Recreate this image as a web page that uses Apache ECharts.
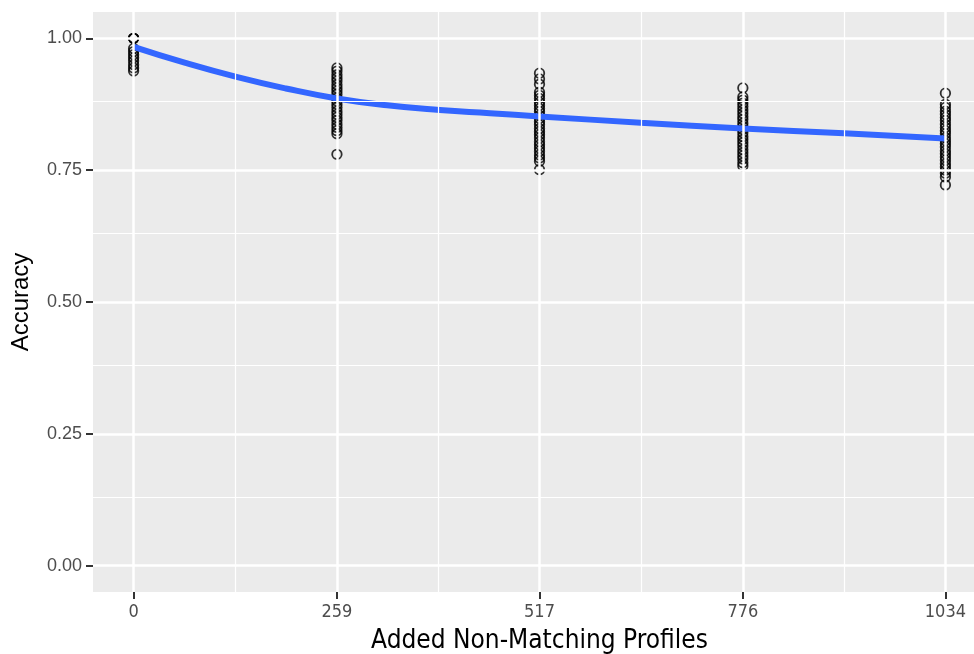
<!DOCTYPE html>
<html>
<head>
<meta charset="utf-8">
<style>
  html, body { margin: 0; padding: 0; background: #fff; }
  #chart { width: 974px; height: 654px; }
</style>
<script src="https://cdn.jsdelivr.net/npm/echarts@6/dist/echarts.min.js"></script>
</head>
<body>
<div id="chart"></div>
<script>
// x positions (added non-matching profiles) and their tick labels
const xValues = [0, 259, 517, 776, 1034];
const xMinor = [129.5, 388, 646.5, 905];
const yTicks = [0, 0.25, 0.5, 0.75, 1];
const yMinor = [0.125, 0.375, 0.625, 0.875];

// accuracy of each run
const acc0 = [1.000, 1.000, 1.000, 0.981, 0.975, 0.969, 0.963, 0.957, 0.950, 0.944, 0.938];
const acc259 = [0.944, 0.938, 0.931, 0.925, 0.919, 0.912, 0.906, 0.900, 0.894, 0.887, 0.881,
  0.875, 0.869, 0.862, 0.856, 0.850, 0.844, 0.837, 0.831, 0.825, 0.819, 0.780];
const acc517 = [0.934, 0.923, 0.913, 0.898, 0.892, 0.886, 0.879, 0.873, 0.867, 0.861, 0.854,
  0.848, 0.842, 0.836, 0.829, 0.823, 0.817, 0.811, 0.804, 0.798, 0.792, 0.786, 0.779, 0.773,
  0.767, 0.751];
const acc776 = [0.906, 0.889, 0.883, 0.877, 0.871, 0.864, 0.858, 0.852, 0.846, 0.839, 0.833,
  0.827, 0.821, 0.814, 0.808, 0.802, 0.796, 0.789, 0.783, 0.777, 0.771, 0.764, 0.758];
const acc1034 = [0.896, 0.875, 0.869, 0.862, 0.856, 0.850, 0.844, 0.837, 0.831, 0.825, 0.819,
  0.812, 0.806, 0.800, 0.794, 0.787, 0.781, 0.775, 0.769, 0.762, 0.756, 0.750, 0.744, 0.737,
  0.722];

// smoothed trend (loess)
const smoothX = [0, 65, 131, 194, 259, 323, 390, 454, 517, 646, 776, 905, 1034];
const smoothY = [0.984, 0.954, 0.927, 0.905, 0.886, 0.873, 0.864, 0.858, 0.852, 0.840, 0.829, 0.820, 0.810];

const groups = [acc0, acc259, acc517, acc776, acc1034];
const points = [];
groups.forEach((g, i) => g.forEach(v => points.push([xValues[i], v])));

const smoothData = smoothX.map((x, i) => [x, smoothY[i]]);

const grey = '#4D4D4D';
const font = '"Liberation Sans", Arial, sans-serif';
const narrow = '"Liberation Sans Narrow", "DejaVu Sans Condensed", "Liberation Sans", sans-serif';

const gridLines = [
  ...xMinor.map(v => ({ xAxis: v, lineStyle: { width: 1.2 } })),
  ...yMinor.map(v => ({ yAxis: v, lineStyle: { width: 1.2 } })),
  ...xValues.map(v => ({ xAxis: v, lineStyle: { width: 2.5 } })),
  ...yTicks.map(v => ({ yAxis: v, lineStyle: { width: 2.5 } }))
];

const chart = echarts.init(document.getElementById('chart'), null, { renderer: 'canvas' });

chart.setOption({
  animation: false,
  backgroundColor: '#fff',
  grid: {
    left: 93, right: -12, top: 12, bottom: 62,
    outerBoundsMode: 'none',
    containLabel: false,
    show: true, backgroundColor: '#EBEBEB', borderWidth: 0
  },
  xAxis: {
    type: 'value',
    min: -51.7,
    max: 1085.7,
    name: 'Added Non-Matching Profiles',
    nameLocation: 'middle',
    nameGap: 36,
    nameTextStyle: { color: '#000', fontSize: 26, fontFamily: narrow },
    axisLine: { show: false, onZero: false },
    axisTick: { show: true, customValues: xValues, length: 7, lineStyle: { color: '#333', width: 2 } },
    axisLabel: {
      customValues: xValues, color: grey, fontSize: 18, fontFamily: narrow, margin: 11,
      formatter: v => String(Math.round(v))
    },
    splitLine: { show: false }
  },
  yAxis: {
    type: 'value',
    min: -0.05,
    max: 1.05,
    name: 'Accuracy',
    nameLocation: 'middle',
    nameGap: 60,
    nameTextStyle: { color: '#000', fontSize: 24, fontFamily: font },
    axisLine: { show: false, onZero: false },
    axisTick: { show: true, customValues: yTicks, length: 7, lineStyle: { color: '#333', width: 2 } },
    axisLabel: {
      customValues: yTicks, color: grey, fontSize: 18, fontFamily: font, margin: 11,
      formatter: v => v.toFixed(2)
    },
    splitLine: { show: false }
  },
  series: [
    {
      type: 'line',
      data: [],
      silent: true,
      z: 1,
      markLine: {
        silent: true,
        symbol: 'none',
        label: { show: false },
        lineStyle: { color: '#fff', type: 'solid' },
        data: gridLines
      }
    },
    {
      type: 'scatter',
      data: points,
      symbol: 'circle',
      symbolSize: 9.5,
      z: 3,
      itemStyle: { color: 'transparent', borderColor: '#000', borderWidth: 1.8 }
    },
    {
      type: 'line',
      data: smoothData,
      smooth: true,
      showSymbol: false,
      z: 4,
      lineStyle: { color: '#3366FF', width: 6 }
    }
  ]
});
</script>
</body>
</html>
